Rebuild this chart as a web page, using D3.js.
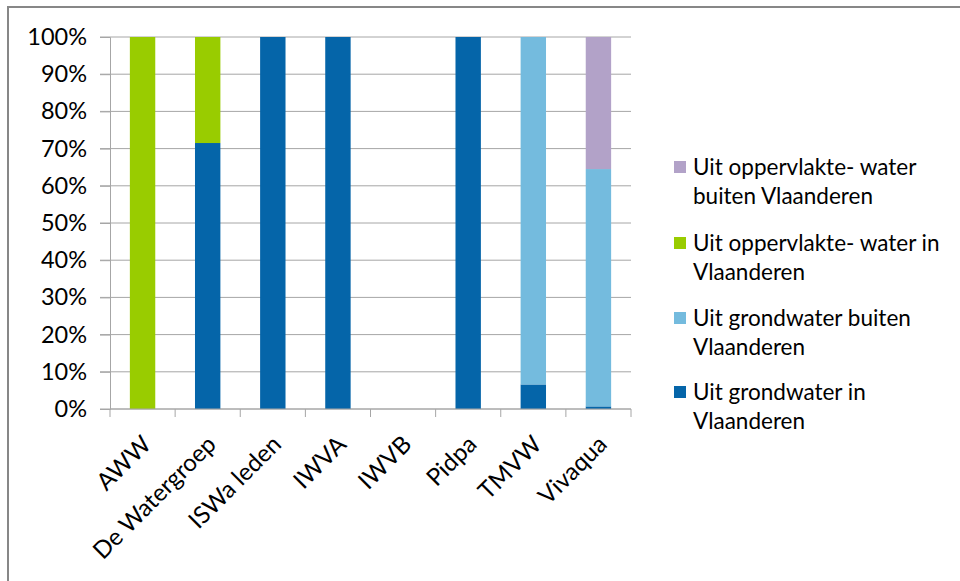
<!DOCTYPE html>
<html>
<head>
<meta charset="utf-8">
<script src="https://cdn.jsdelivr.net/npm/d3@7"></script>
<style>
  body { margin: 0; background: #fff; }
  svg text { font-family: Lato, "Noto Sans", sans-serif; fill: #000; }
</style>
</head>
<body>
<div class="graph"></div>
<script>
let w = 960;
let h = 581;

// data
let categories = ["AWW", "De Watergroep", "ISWa leden", "IWVA", "IWVB", "Pidpa", "TMVW", "Vivaqua"];
let seriesNames = [
  "Uit grondwater in Vlaanderen",
  "Uit grondwater buiten Vlaanderen",
  "Uit oppervlakte- water in Vlaanderen",
  "Uit oppervlakte- water buiten Vlaanderen"
];
let grondIn = [0, 71.5, 100, 100, 0, 100, 6.6, 0.7];
let grondBuiten = [0, 0, 0, 0, 0, 0, 93.4, 63.8];
let opperIn = [100, 28.5, 0, 0, 0, 0, 0, 0];
let opperBuiten = [0, 0, 0, 0, 0, 0, 0, 35.5];
let yTicks = [0, 10, 20, 30, 40, 50, 60, 70, 80, 90, 100];
let colors = ["#0565a9", "#74bbde", "#99cc00", "#b2a2c8"];

let legendLines = [
  ["Uit grondwater in", "Vlaanderen"],
  ["Uit grondwater buiten", "Vlaanderen"],
  ["Uit oppervlakte- water in", "Vlaanderen"],
  ["Uit oppervlakte- water", "buiten Vlaanderen"]
];

let table = categories.map(function (c, i) {
  return {
    cat: c,
    s0: grondIn[i],
    s1: grondBuiten[i],
    s2: opperIn[i],
    s3: opperBuiten[i]
  };
});

let svgvar = d3
  .select(".graph")
  .append("svg")
  .attr("width", w)
  .attr("height", h);

// outer frame
svgvar
  .append("rect")
  .attr("x", 8)
  .attr("y", 7)
  .attr("width", w + 20)
  .attr("height", h + 20)
  .attr("fill", "#fff")
  .attr("stroke", "#878787")
  .attr("stroke-width", 2);

let plotLeft = 110, plotRight = 631, plotTop = 37, plotBottom = 409;

let xScale = d3.scaleBand().domain(categories).range([plotLeft, plotRight]).padding(0);
let yScale = d3.scaleLinear().domain([0, 100]).range([plotBottom, plotTop]);

// gridlines
svgvar
  .append("g")
  .selectAll("line")
  .data(yTicks)
  .enter()
  .append("line")
  .attr("x1", plotLeft - 10)
  .attr("x2", plotRight)
  .attr("y1", (d) => yScale(d))
  .attr("y2", (d) => yScale(d))
  .attr("stroke", "#a6a6a6")
  .attr("stroke-width", 1);

// stacked bars
let stack = d3.stack().keys(["s0", "s1", "s2", "s3"]);
let layers = stack(table);
let bw = xScale.bandwidth();

svgvar
  .append("g")
  .selectAll("g")
  .data(layers)
  .enter()
  .append("g")
  .attr("fill", (d, i) => colors[i])
  .selectAll("rect")
  .data((d) => d)
  .enter()
  .append("rect")
  .attr("x", (d) => xScale(d.data.cat) + bw * 0.305)
  .attr("width", bw * 0.39)
  .attr("y", (d) => yScale(d[1]))
  .attr("height", (d) => yScale(d[0]) - yScale(d[1]));

// y axis
let yAxis = d3
  .axisLeft(yScale)
  .tickValues(yTicks)
  .tickSize(10)
  .tickPadding(13)
  .tickFormat((d) => d + "%");
let gy = svgvar
  .append("g")
  .attr("transform", "translate(" + plotLeft + ",0)")
  .call(yAxis);
gy.selectAll("text").style("font-size", "23.5px");
gy.selectAll("line").attr("stroke", "#a6a6a6");
gy.select(".domain").attr("stroke", "#a6a6a6");

// x axis line and boundary ticks
svgvar
  .append("line")
  .attr("x1", plotLeft)
  .attr("x2", plotRight)
  .attr("y1", plotBottom)
  .attr("y2", plotBottom)
  .attr("stroke", "#a6a6a6");

let bounds = categories.map((c) => xScale(c)).concat([plotRight]);
svgvar
  .append("g")
  .selectAll("line")
  .data(bounds)
  .enter()
  .append("line")
  .attr("x1", (d) => d)
  .attr("x2", (d) => d)
  .attr("y1", plotBottom)
  .attr("y2", plotBottom + 8)
  .attr("stroke", "#a6a6a6");

// x labels
svgvar
  .append("g")
  .selectAll("text")
  .data(categories)
  .enter()
  .append("text")
  .attr("text-anchor", "end")
  .style("font-size", "24px")
  .attr("transform", (d) => "translate(" + (xScale(d) + bw / 2 - 2) + "," + (plotBottom + 25) + ") rotate(-45)")
  .attr("dy", "0.7em")
  .text((d) => d);

// legend (top = last series)
let legendY = [167, 243, 318, 392];
let leg = svgvar
  .append("g")
  .selectAll("g")
  .data([3, 2, 1, 0])
  .enter()
  .append("g")
  .attr("transform", (d, i) => "translate(674," + legendY[i] + ")");

leg
  .append("rect")
  .attr("x", 0)
  .attr("y", -6)
  .attr("width", 12)
  .attr("height", 12)
  .attr("fill", (d) => colors[d]);

leg
  .append("text")
  .style("font-size", "22.5px")
  .attr("x", 19)
  .attr("y", 0)
  .attr("dy", "0.35em")
  .text((d) => legendLines[d][0]);

leg
  .append("text")
  .style("font-size", "22.5px")
  .attr("x", 19)
  .attr("y", 29)
  .attr("dy", "0.35em")
  .text((d) => legendLines[d][1]);
</script>
</body>
</html>
